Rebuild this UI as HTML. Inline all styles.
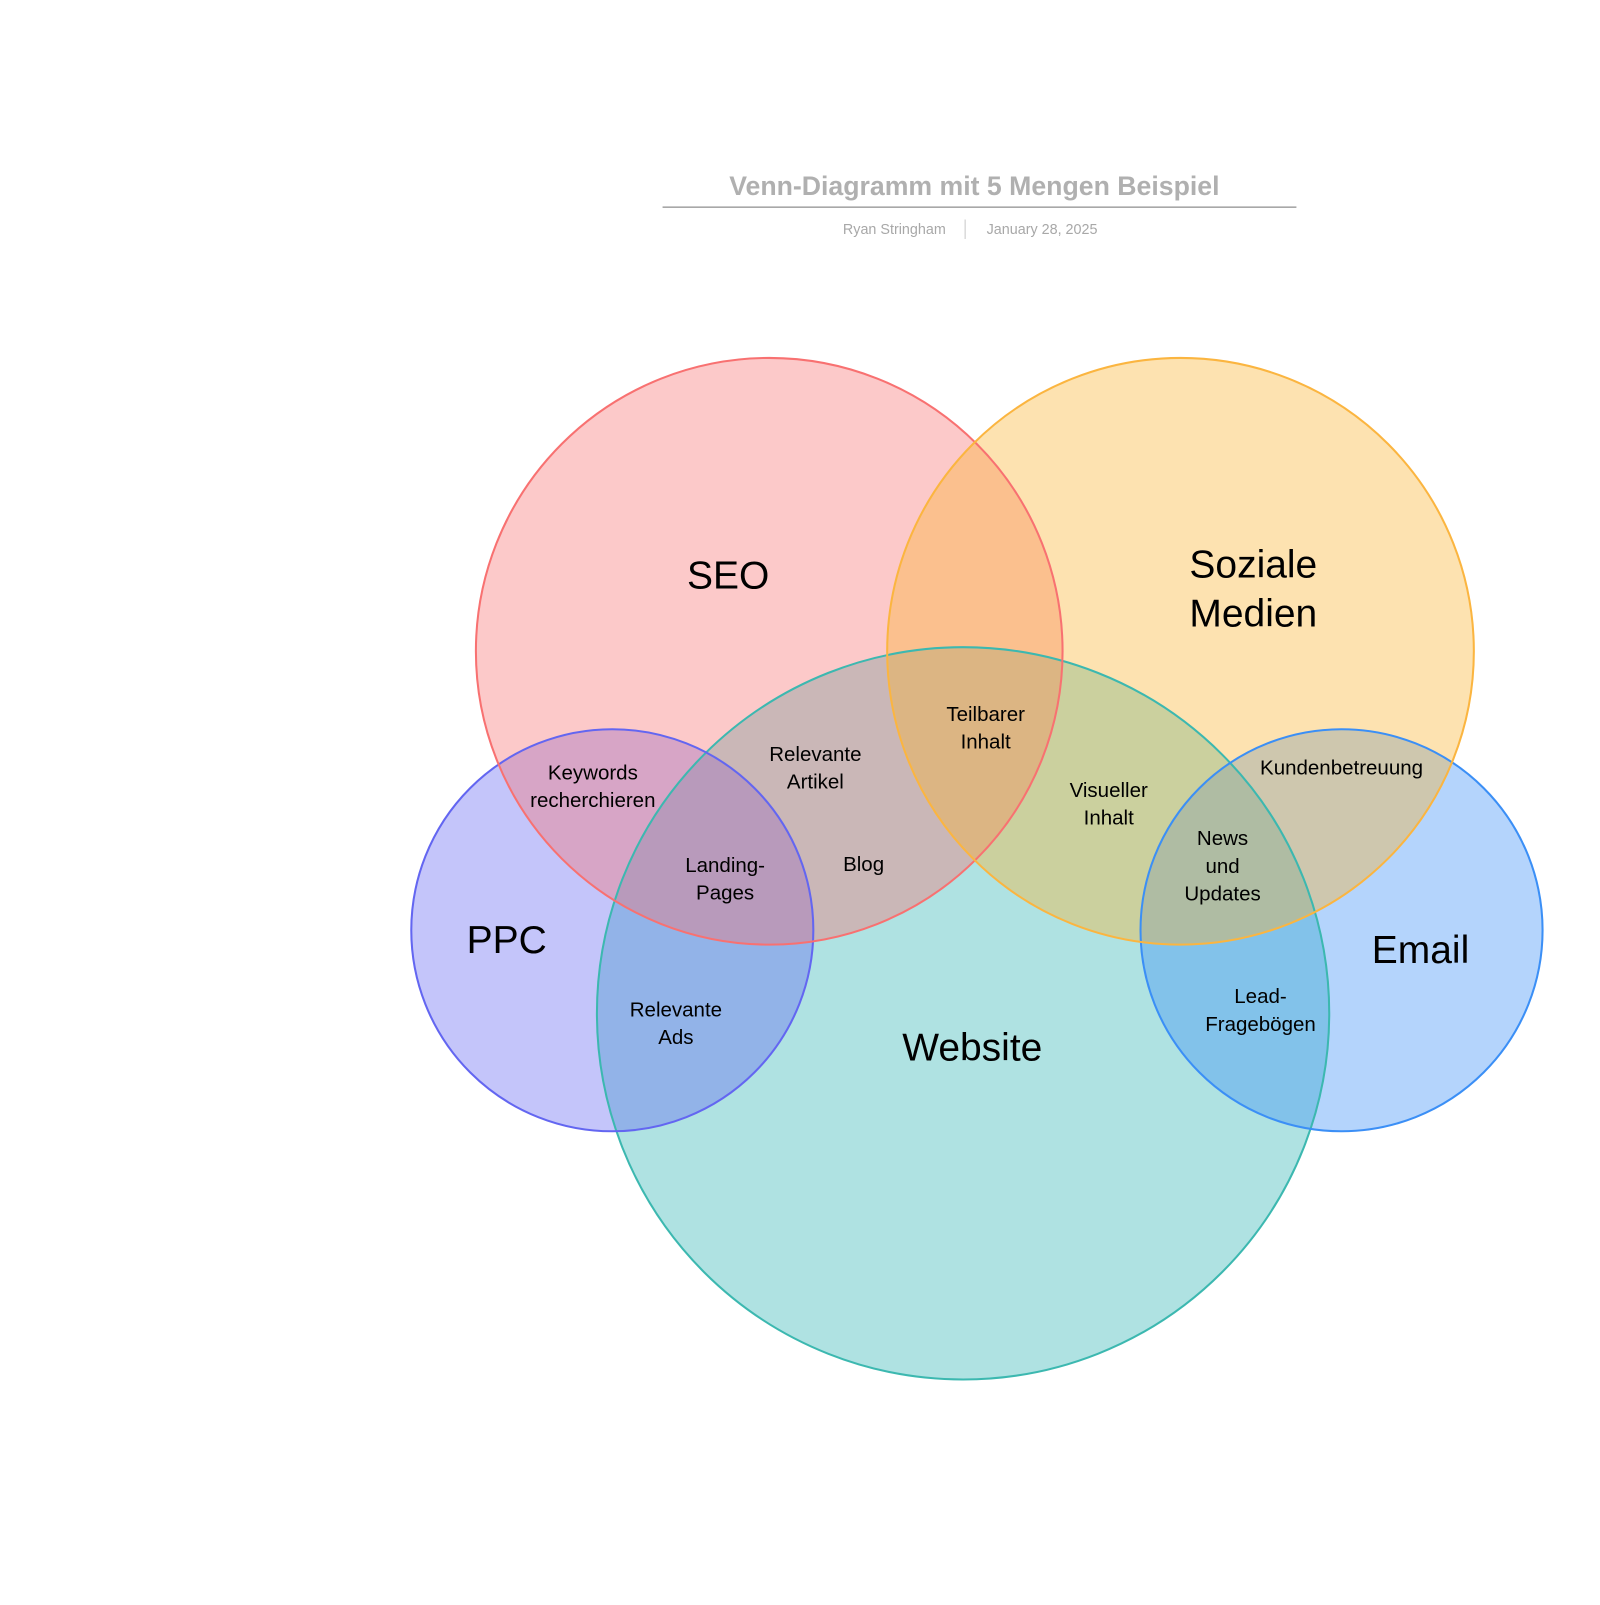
<!DOCTYPE html>
<html><head><meta charset="utf-8"><style>
html,body{margin:0;padding:0;background:#fff;}
svg text{font-family:"Liberation Sans",sans-serif;}
</style></head><body>
<svg width="1600" height="1600" viewBox="0 0 1560 1560" xmlns="http://www.w3.org/2000/svg">
<text x="950" y="190" text-anchor="middle" font-size="26" font-weight="bold" fill="#b0b0b0">Venn-Diagramm mit 5 Mengen Beispiel</text>
<line x1="646" y1="202" x2="1264" y2="202" stroke="#a8a8a8" stroke-width="1.5"/>
<text x="872" y="228" text-anchor="middle" font-size="14" fill="#a8a8a8">Ryan Stringham</text>
<line x1="941" y1="214" x2="941" y2="233" stroke="#c8c8c8" stroke-width="1"/>
<text x="1016" y="228" text-anchor="middle" font-size="14" fill="#a8a8a8">January 28, 2025</text>

<g fill-opacity="0.38">
<circle cx="939" cy="988" r="357" fill="#2cb4b4"/>
<circle cx="597" cy="907" r="196" fill="#6366f1"/>
<circle cx="1308" cy="907" r="196" fill="#3b8ff6"/>
<circle cx="750" cy="635" r="286" fill="#f87171"/>
<circle cx="1151" cy="635" r="286" fill="#fbb32f"/>
</g>
<g fill="none" stroke-width="2">
<circle cx="939" cy="988" r="357" stroke="#3cb8b0"/>
<circle cx="597" cy="907" r="196" stroke="#6366f1"/>
<circle cx="1308" cy="907" r="196" stroke="#3b8ff6"/>
<circle cx="750" cy="635" r="286" stroke="#f87171"/>
<circle cx="1151" cy="635" r="286" stroke="#fbb540"/>
</g>

<g font-size="38" fill="#000" text-anchor="middle">
<text x="710" y="574">SEO</text>
<text x="1222" y="563">Soziale</text>
<text x="1222" y="611">Medien</text>
<text x="494" y="929">PPC</text>
<text x="1385" y="939">Email</text>
<text x="948" y="1034">Website</text>
</g>
<g font-size="20" fill="#000" text-anchor="middle">
<text x="961" y="703">Teilbarer</text><text x="961" y="730">Inhalt</text>
<text x="795" y="742">Relevante</text><text x="795" y="769">Artikel</text>
<text x="578" y="760">Keywords</text><text x="578" y="787">recherchieren</text>
<text x="707" y="850">Landing-</text><text x="707" y="877">Pages</text>
<text x="842" y="849">Blog</text>
<text x="1081" y="777">Visueller</text><text x="1081" y="804">Inhalt</text>
<text x="1308" y="755">Kundenbetreuung</text>
<text x="1192" y="824">News</text><text x="1192" y="851">und</text><text x="1192" y="878">Updates</text>
<text x="659" y="991">Relevante</text><text x="659" y="1018">Ads</text>
<text x="1229" y="978">Lead-</text><text x="1229" y="1005">Fragebögen</text>
</g>
</svg>
</body></html>
